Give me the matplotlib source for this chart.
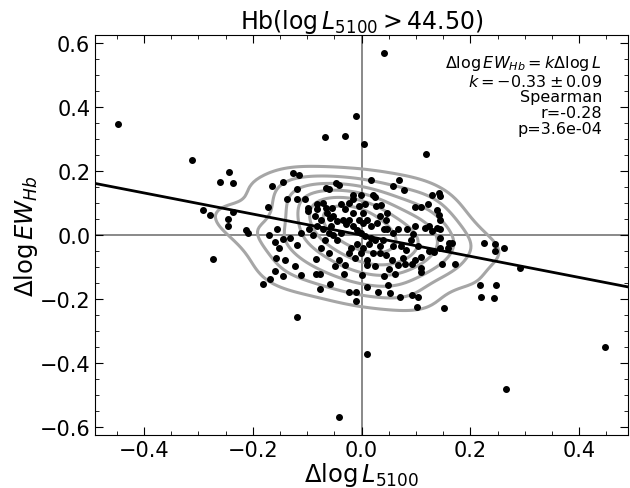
import numpy as np
import matplotlib
matplotlib.use("Agg")
import matplotlib.pyplot as plt
import seaborn as sns

# slope/intercept of the fitted relation
k_fit = -0.33
b_fit = 0.0

dL = [
    -0.448, -0.311, -0.243, -0.260, -0.237, -0.291, -0.278, -0.246, -0.246, -0.237,
    -0.274, -0.213, -0.208, 0.041, -0.011, -0.067, -0.030, 0.005, 0.118, -0.119,
    0.009, -0.041, 0.265, 0.447, 0.292, 0.245, 0.245, 0.262, 0.225, 0.217,
    0.220, 0.248, 0.243, 0.151, 0.101, 0.103, 0.092, 0.070, 0.053, 0.030,
    -0.011, -0.011, -0.024, 0.009, 0.048, 0.171, 0.147, 0.109, 0.109, -0.058,
    -0.077, -0.182, -0.169, -0.160, -0.144, -0.157, -0.140, -0.123, -0.112, -0.084,
    -0.076, -0.032, -0.084, -0.119, -0.112, -0.132, -0.151, -0.159, -0.145, -0.171,
    -0.155, -0.172, -0.165, -0.145, -0.126, -0.115, -0.137, -0.118, -0.104, -0.118,
    -0.099, -0.098, -0.082, -0.071, -0.066, -0.060, -0.047, -0.041, -0.015, -0.015,
    -0.001, 0.018, 0.021, 0.025, 0.069, 0.057, 0.078, 0.130, 0.143, 0.145,
    0.122, 0.110, 0.098, 0.139, 0.142, 0.145, 0.138, 0.145, 0.124, 0.117,
    0.129, 0.099, 0.083, 0.094, 0.090, 0.144, 0.161, 0.167, 0.145, 0.158,
    0.134, 0.124, 0.104, 0.110, 0.099, 0.092, 0.077, 0.079, 0.066, 0.050,
    0.061, 0.042, 0.055, 0.044, 0.033, 0.025, 0.009, 0.001, 0.042, 0.058,
    0.066, 0.073, 0.081, 0.058, 0.047, 0.033, 0.027, 0.035, 0.044, 0.029,
    0.018, 0.010, 0.003, -0.004, 0.007, -0.016, -0.023, -0.029, -0.016, -0.008,
    -0.001, 0.007, 0.018, 0.025, 0.014, 0.003, -0.008, -0.019, -0.023, -0.012,
    -0.001, 0.010, 0.021, 0.033, 0.040, -0.038, -0.045, -0.052, -0.056, -0.045,
    -0.034, -0.052, -0.064, -0.058, -0.075, -0.082, -0.071, -0.060, -0.067, -0.075,
    -0.060, -0.041, -0.030, -0.049, -0.089, -0.097, -0.086, -0.082, -0.066, -0.054,
    -0.030, -0.038, -0.023, -0.004, 0.003, 0.047,
]
dEW = [
    0.347, 0.235, 0.196, 0.167, 0.163, 0.078, 0.064, 0.051, 0.028, 0.072,
    -0.075, 0.015, 0.007, 0.568, 0.372, 0.306, 0.311, 0.285, 0.255, -0.255,
    -0.372, -0.568, -0.481, -0.348, -0.101, -0.028, -0.049, -0.041, -0.025, -0.155,
    -0.192, -0.155, -0.197, -0.226, -0.224, -0.194, -0.188, -0.193, -0.182, -0.176,
    -0.176, -0.205, -0.176, -0.162, -0.155, -0.090, -0.090, -0.101, -0.116, -0.154,
    -0.168, -0.152, -0.137, -0.113, -0.129, -0.071, -0.078, -0.096, -0.125, -0.122,
    -0.122, -0.121, -0.073, -0.031, 0.008, -0.010, -0.039, -0.020, -0.011, 0.000,
    0.018, 0.089, 0.154, 0.165, 0.195, 0.188, 0.114, 0.114, 0.114, 0.145,
    0.076, 0.084, 0.096, 0.101, 0.148, 0.143, 0.162, 0.156, 0.125, 0.112,
    0.126, 0.173, 0.125, 0.119, 0.174, 0.154, 0.140, 0.125, 0.132, 0.122,
    0.099, 0.087, 0.089, 0.078, 0.062, 0.049, 0.021, 0.020, 0.028, 0.024,
    0.013, 0.028, 0.020, 0.004, -0.014, -0.009, -0.025, -0.024, -0.041, -0.041,
    -0.054, -0.048, -0.035, -0.068, -0.077, -0.089, -0.071, -0.089, -0.092, -0.105,
    -0.120, -0.128, -0.076, -0.062, -0.055, -0.097, -0.094, -0.124, 0.018, 0.007,
    0.018, -0.034, -0.045, -0.034, 0.070, 0.059, 0.091, 0.094, 0.049, 0.039,
    0.028, 0.049, 0.070, 0.091, 0.099, 0.070, 0.049, 0.036, 0.028, 0.015,
    0.007, -0.003, -0.008, -0.016, -0.029, -0.040, -0.029, -0.040, -0.055, -0.071,
    -0.055, -0.076, -0.055, -0.034, -0.014, 0.007, -0.014, 0.002, 0.028, 0.044,
    0.049, 0.059, 0.070, 0.054, 0.049, 0.028, 0.018, 0.007, -0.014, -0.040,
    -0.055, -0.076, -0.092, -0.097, 0.002, 0.018, 0.059, 0.082, 0.086, 0.086,
    0.082, 0.099, 0.101, 0.049, 0.039, 0.020,
]

title = r"Hb($\log L_{5100}>44.50$)"
info = "\n".join([
    r"$\Delta\log EW_{Hb}=k\Delta\log L$",
    r"$k=-0.33\pm0.09$",
    "Spearman",
    "r=-0.28",
    "p=3.6e-04",
])

fig = plt.figure(figsize=(6.3, 4.89), dpi=100)
ax = fig.add_axes([0.151, 0.108, 0.846, 0.818])

ax.axhline(0, color="gray", lw=1.3, zorder=1)
ax.axvline(0, color="gray", lw=1.3, zorder=1)

sns.kdeplot(x=dL, y=dEW, ax=ax, levels=7, thresh=0.2, color="#a6a6a6",
            linewidths=2.2, zorder=2)
ax.scatter(dL, dEW, s=16, color="black", zorder=3)

xx = np.array([-0.49, 0.49])
ax.plot(xx, k_fit * xx + b_fit, color="black", lw=2, zorder=4)

ax.text(0.951, 0.955, info, transform=ax.transAxes, ha="right", va="top",
        fontsize=11.5, linespacing=1.05)

ax.set_xlim(-0.49, 0.49)
ax.set_ylim(-0.625, 0.625)
ax.set_xticks([-0.4, -0.2, 0.0, 0.2, 0.4])
ax.set_yticks([-0.6, -0.4, -0.2, 0.0, 0.2, 0.4, 0.6])
ax.minorticks_on()
ax.tick_params(which="both", direction="in", top=True, right=True, labelsize=15)
ax.tick_params(which="major", length=6)
ax.tick_params(which="minor", length=3)
ax.set_xlabel(r"$\Delta\log L_{5100}$", fontsize=17.5, labelpad=0)
ax.set_ylabel(r"$\Delta\log EW_{Hb}$", fontsize=17.5, labelpad=0)
ax.set_title(title, fontsize=17, pad=5)

fig.savefig("out.png", dpi=100)
